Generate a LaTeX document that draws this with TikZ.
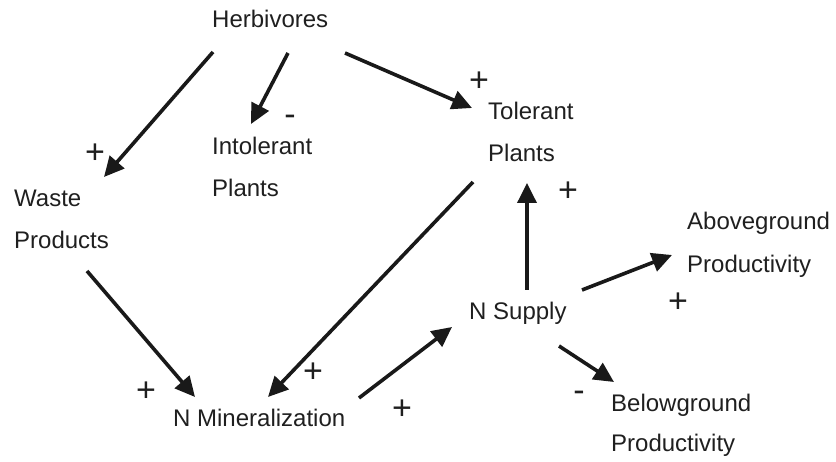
\documentclass[tikz,border=0pt]{standalone}
\usepackage{fontspec}
\setmainfont{Liberation Sans}
\usetikzlibrary{arrows.meta}
\begin{document}
\begin{tikzpicture}[x=1pt,y=-1pt,
  lbl/.style={font=\fontsize{24}{28}\selectfont, anchor=base west, inner sep=0pt, text=black!88},
  sgn/.style={font=\fontsize{34}{34}\selectfont, inner sep=0pt, text=black!88},
  arr/.style={line width=3.6pt, draw=black!90, -{Triangle[length=20pt,width=19pt]}}]
\useasboundingbox (0,0) rectangle (836,462);
% labels
\node[lbl] (herb) at (212,28) {Herbivores};
\node[lbl] (intol) at (212,155) {Intolerant};
\node[lbl] (intol2) at (212,197) {Plants};
\node[lbl] (waste) at (14,207) {Waste};
\node[lbl] (waste2) at (14,249) {Products};
\node[lbl] (tol) at (488,120) {Tolerant};
\node[lbl] (tol2) at (488,162) {Plants};
\node[lbl] (above) at (687,230) {Aboveground};
\node[lbl] (above2) at (687,273) {Productivity};
\node[lbl] (nsup) at (469,320) {N Supply};
\node[lbl] (below) at (611,412) {Belowground};
\node[lbl] (below2) at (611,452) {Productivity};
\node[lbl] (nmin) at (173,427) {N Mineralization};
% arrow ends
\coordinate (a1s) at (213,52);  \coordinate (a1e) at (104,177);
\coordinate (a2s) at (288,53);  \coordinate (a2e) at (251,124);
\coordinate (a3s) at (345,53);  \coordinate (a3e) at (472,108);
\coordinate (a4s) at (473,182); \coordinate (a4e) at (268,397);
\coordinate (a5s) at (87,271);  \coordinate (a5e) at (195,397);
\coordinate (a6s) at (359,398); \coordinate (a6e) at (452,327);
\coordinate (a7s) at (527,290); \coordinate (a7e) at (527,183);
\coordinate (a8s) at (582,290); \coordinate (a8e) at (672,255);
\coordinate (a9s) at (559,346); \coordinate (a9e) at (614,382);
\draw[arr] (a1s) -- (a1e);
\draw[arr] (a2s) -- (a2e);
\draw[arr] (a3s) -- (a3e);
\draw[arr] (a4s) -- (a4e);
\draw[arr] (a5s) -- (a5e);
\draw[arr] (a6s) -- (a6e);
\draw[arr] (a7s) -- (a7e);
\draw[arr] (a8s) -- (a8e);
\draw[arr] (a9s) -- (a9e);
% signs
\node[sgn] (s1) at (95,154) {+};
\node[sgn] (s2) at (290,120) {-};
\node[sgn] (s3) at (479,82) {+};
\node[sgn] (s4) at (568,192) {+};
\node[sgn] (s5) at (146,392) {+};
\node[sgn] (s6) at (313,373) {+};
\node[sgn] (s7) at (402,410) {+};
\node[sgn] (s8) at (678,303) {+};
\node[sgn] (s9) at (579,396) {-};
\end{tikzpicture}
\end{document}
